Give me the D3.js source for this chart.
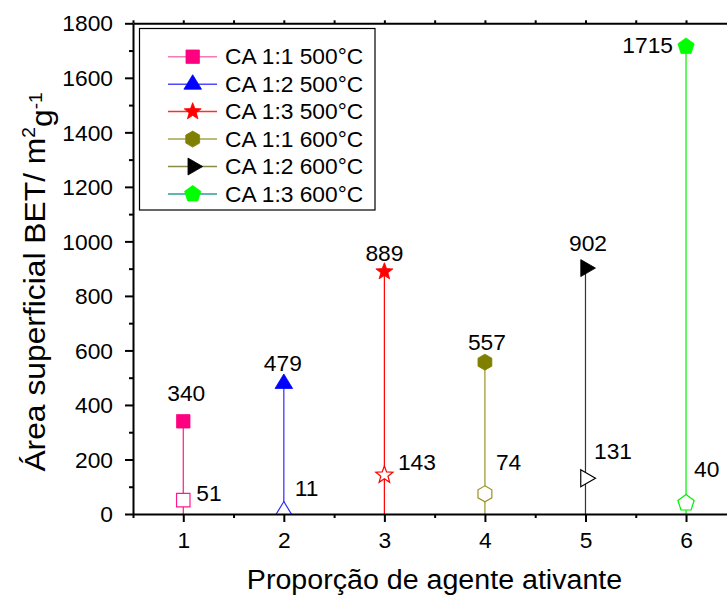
<!DOCTYPE html>
<html>
<head>
<meta charset="utf-8">
<script src="https://cdn.jsdelivr.net/npm/d3@7"></script>
<style>
  body { margin: 0; background: #fff; }
  svg text { font-family: "Liberation Sans", Arial, Helvetica, sans-serif; fill: #000; }
</style>
</head>
<body>
<svg id="chart" width="727" height="600"></svg>
<script>
// ---- data ----
const categories = [1, 2, 3, 4, 5, 6];
const seriesNames = ["CA 1:1 500°C", "CA 1:2 500°C", "CA 1:3 500°C", "CA 1:1 600°C", "CA 1:2 600°C", "CA 1:3 600°C"];
const highValues = [340, 479, 889, 557, 902, 1715];
const lowValues = [51, 11, 143, 74, 131, 40];
const xTickValues = [1, 2, 3, 4, 5, 6];
const xMinorTicks = [0.5, 1.5, 2.5, 3.5, 4.5, 5.5, 6.5];
const yTickValues = [0, 200, 400, 600, 800, 1000, 1200, 1400, 1600, 1800];
const yMinorTicks = [100, 300, 500, 700, 900, 1100, 1300, 1500, 1700];

// ---- styles ----
const markerShapes = ["square", "triangle", "star", "hexagon", "rightTriangle", "pentagon"];
const markerColors = ["#FF0080", "#0000FF", "#FF0000", "#808000", "#000000", "#00FF00"];
const stemColors = ["#FF1A8C", "#2B2BFF", "#FF0000", "#9A9226", "#333333", "#00F000"];
const legendLineColors = ["#F47BB4", "#4D4DFF", "#FF2E2E", "#A8A44E", "#8A8A48", "#2F9C98"];
// label placement relative to each marker, in pixels
const highLabelOffsets = [[3, -28], [-1, -20], [0, -18.5], [2, -20], [2.5, -25], [-13, -1]];
const lowLabelOffsets = [[13, -7], [11, -23], [13.5, -12.5], [11, -32], [8.5, -26.5], [8, -34]];

const STRETCH = 1.06;         // horizontal glyph stretch of the typeface
const FS = 21.5;              // tick, legend and value label size

const svg = d3.select("#chart");
const x = d3.scaleLinear().domain([0.5, 6.5]).range([133, 736.3]);
const y = d3.scaleLinear().domain([0, 1800]).range([514, 23.3]);

// custom marker geometries for d3.symbol (size = r^2)
const symbolTypes = {
  square: { draw(c, s) { const r = Math.sqrt(s) * 0.84; c.rect(-r, -r, 2 * r, 2 * r); } },
  triangle: { draw(c, s) { const r = Math.sqrt(s);
    c.moveTo(0, -1.18 * r); c.lineTo(1.1 * r, 0.63 * r); c.lineTo(-1.1 * r, 0.63 * r); c.closePath(); } },
  star: { draw(c, s) { const R = Math.sqrt(s) * 1.12, ri = R * 0.42;
    for (let i = 0; i < 10; i++) { const a = -Math.PI / 2 + i * Math.PI / 5, rr = i % 2 ? ri : R;
      i ? c.lineTo(rr * Math.cos(a), rr * Math.sin(a)) : c.moveTo(rr * Math.cos(a), rr * Math.sin(a)); }
    c.closePath(); } },
  hexagon: { draw(c, s) { const r = Math.sqrt(s);
    for (let i = 0; i < 6; i++) { const a = -Math.PI / 2 + i * Math.PI / 3;
      i ? c.lineTo(r * Math.cos(a), r * Math.sin(a)) : c.moveTo(r * Math.cos(a), r * Math.sin(a)); }
    c.closePath(); } },
  rightTriangle: { draw(c, s) { const r = Math.sqrt(s);
    c.moveTo(-0.59 * r, -1.06 * r); c.lineTo(1.25 * r, 0); c.lineTo(-0.59 * r, 1.06 * r); c.closePath(); } },
  pentagon: { draw(c, s) { const r = Math.sqrt(s) * 1.07;
    for (let i = 0; i < 5; i++) { const a = -Math.PI / 2 + i * 2 * Math.PI / 5;
      i ? c.lineTo(r * Math.cos(a), r * Math.sin(a)) : c.moveTo(r * Math.cos(a), r * Math.sin(a)); }
    c.closePath(); } }
};
const symbolPath = (i) => d3.symbol().type(symbolTypes[markerShapes[i]]).size(64)();

// stretched text helper
function stretchedText(parent, px, py, str, size, anchor, rotate) {
  const t = parent.append("text")
    .attr("transform", `translate(${px},${py})` + (rotate ? ` rotate(${rotate})` : "") + ` scale(${STRETCH},1)`)
    .attr("text-anchor", anchor || "start")
    .style("font-size", size + "px");
  if (str !== null) t.text(str);
  return t;
}

// clip region for the plotted marks
svg.append("defs").append("clipPath").attr("id", "plotClip")
  .append("rect").attr("x", 133).attr("y", 23.3).attr("width", 603).attr("height", 490.7);

const plot = svg.append("g").attr("clip-path", "url(#plotClip)");

// drop lines from the axis up to each filled marker
plot.selectAll("line.stem").data(categories).join("line")
  .attr("class", "stem")
  .attr("x1", d => x(d)).attr("x2", d => x(d))
  .attr("y1", y(0)).attr("y2", (d, i) => y(highValues[i]))
  .attr("stroke", (d, i) => stemColors[i]).attr("stroke-width", 1.2);

// open markers (lower values)
plot.selectAll("path.low").data(categories).join("path")
  .attr("class", "low")
  .attr("transform", (d, i) => `translate(${x(d)},${y(lowValues[i])})`)
  .attr("d", (d, i) => symbolPath(i))
  .attr("fill", "#fff").attr("stroke", (d, i) => i === 4 ? "#000" : stemColors[i]).attr("stroke-width", 1.2);

// filled markers (higher values)
plot.selectAll("path.high").data(categories).join("path")
  .attr("class", "high")
  .attr("transform", (d, i) => `translate(${x(d)},${y(highValues[i])})`)
  .attr("d", (d, i) => symbolPath(i))
  .attr("fill", (d, i) => markerColors[i]).attr("stroke", (d, i) => markerColors[i]).attr("stroke-width", 0.8);

// value labels
const digitMid = 0.358 * FS;
categories.forEach((d, i) => {
  const hx = x(d) + highLabelOffsets[i][0], hy = y(highValues[i]) + highLabelOffsets[i][1] + digitMid;
  stretchedText(svg, hx, hy, String(highValues[i]), FS, i === 5 ? "end" : "middle");
  const lx = x(d) + lowLabelOffsets[i][0], ly = y(lowValues[i]) + lowLabelOffsets[i][1] + digitMid;
  stretchedText(svg, lx, ly, String(lowValues[i]), FS, "start");
});

// ---- axes ----
function styleAxis(g) {
  g.selectAll("path.domain").attr("stroke", "#000").attr("stroke-width", 2);
  g.selectAll(".tick line").attr("stroke", "#000").attr("stroke-width", 2);
}

// bottom
const gx = svg.append("g").attr("transform", `translate(0,${y(0)})`)
  .call(d3.axisBottom(x).tickValues(xMinorTicks).tickSize(4).tickSizeOuter(0).tickFormat(""));
styleAxis(gx);
const gxMajor = svg.append("g").attr("transform", `translate(0,${y(0)})`)
  .call(d3.axisBottom(x).tickValues(xTickValues).tickSize(8).tickSizeOuter(0).tickFormat(d3.format("d")));
styleAxis(gxMajor);
gxMajor.select("path.domain").remove();
gxMajor.selectAll(".tick text")
  .attr("x", null).attr("y", null).attr("dy", null)
  .attr("transform", `translate(0,${26.5 + digitMid}) scale(${STRETCH},1)`)
  .attr("fill", "#000").style("font-size", FS + "px").attr("font-family", null);

// top (ticks only)
const gTop = svg.append("g").attr("transform", `translate(0,${y(1800)})`)
  .call(d3.axisTop(x).tickValues(xMinorTicks.concat(xTickValues)).tickSize(3).tickSizeOuter(0).tickFormat(""));
styleAxis(gTop);

// left
const gy = svg.append("g").attr("transform", `translate(${x(0.5)},0)`)
  .call(d3.axisLeft(y).tickValues(yMinorTicks).tickSize(4).tickSizeOuter(0).tickFormat(""));
styleAxis(gy);
const gyMajor = svg.append("g").attr("transform", `translate(${x(0.5)},0)`)
  .call(d3.axisLeft(y).tickValues(yTickValues).tickSize(8).tickSizeOuter(0).tickFormat(d3.format("d")));
styleAxis(gyMajor);
gyMajor.select("path.domain").remove();
gyMajor.selectAll(".tick text")
  .attr("x", null).attr("y", null).attr("dy", null)
  .attr("transform", `translate(-20,${digitMid}) scale(${STRETCH},1)`)
  .attr("fill", "#000").style("font-size", FS + "px").attr("font-family", null);

// axis titles
stretchedText(svg, 434.5, 589, "Proporção de agente ativante", 27, "middle");
const yt = stretchedText(svg, 45, 282, null, 30, "middle", -90);
yt.append("tspan").text("Área superficial BET/ m");
yt.append("tspan").attr("dy", "-0.55em").style("font-size", "60%").text("2");
yt.append("tspan").attr("dy", "0.55em").text("g");
yt.append("tspan").attr("dy", "-0.55em").style("font-size", "60%").text("-1");

// ---- legend ----
const legend = svg.append("g");
legend.append("rect").attr("x", 139.5).attr("y", 28.5).attr("width", 235.5).attr("height", 181.5)
  .attr("fill", "#fff").attr("stroke", "#000").attr("stroke-width", 1.2);
const legendY = d3.scaleLinear().domain([0, 5]).range([56.7, 194]);
seriesNames.forEach((name, i) => {
  const ly = legendY(i);
  legend.append("line").attr("x1", 168).attr("x2", 217).attr("y1", ly).attr("y2", ly)
    .attr("stroke", legendLineColors[i]).attr("stroke-width", 1.5);
  legend.append("path").attr("transform", `translate(192.7,${ly})`).attr("d", symbolPath(i))
    .attr("fill", markerColors[i]).attr("stroke", markerColors[i]).attr("stroke-width", 0.8);
  stretchedText(legend, 225, ly + 0.358 * FS, name, FS, "start");
});
</script>
</body>
</html>
